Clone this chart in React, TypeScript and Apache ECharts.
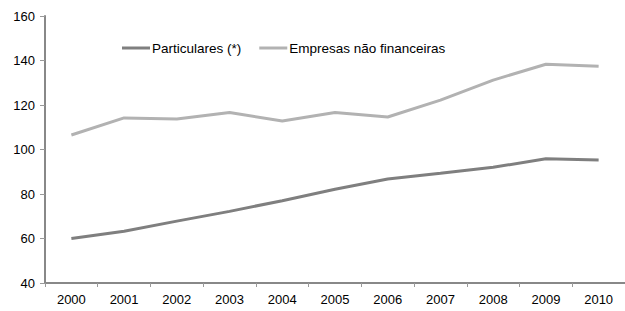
import React, { useEffect, useRef } from "react";
import * as echarts from "echarts";

const years = ["2000", "2001", "2002", "2003", "2004", "2005", "2006", "2007", "2008", "2009", "2010"];
const particulares = [60, 63.3, 67.8, 72.2, 77, 82.1, 86.7, 89.3, 92, 95.8, 95.3];
const empresas = [106.5, 114.2, 113.7, 116.6, 112.8, 116.6, 114.6, 122.2, 131.2, 138.3, 137.4];
const seriesNames = ["Particulares (*)", "Empresas não financeiras"];

export default function App() {
  const ref = useRef<HTMLDivElement>(null);
  useEffect(() => {
    document.body.style.margin = "0";
    const chart = echarts.init(ref.current!, null, { renderer: "svg" });
    const font = "Liberation Sans, Arial, sans-serif";
    chart.setOption({
      animation: false,
      textStyle: { fontFamily: font },
      grid: { left: 45, right: -11, top: 16, bottom: 28 },
      legend: {
        left: 117,
        top: 36,
        itemWidth: 28,
        itemHeight: 3,
        itemGap: 18,
        icon: "rect",
        textStyle: { fontSize: 13.5, color: "#000", fontFamily: font, padding: [0, 0, 0, -3] },
        data: seriesNames,
      },
      xAxis: {
        type: "category",
        data: years,
        boundaryGap: true,
        axisLine: { lineStyle: { color: "#888", width: 2 } },
        axisTick: { show: true, length: 4, lineStyle: { color: "#999" } },
        axisLabel: { fontSize: 13, color: "#000", margin: 10, fontFamily: font },
      },
      yAxis: {
        type: "value",
        min: 40,
        max: 160,
        interval: 20,
        splitLine: { show: false },
        axisLine: { show: true, lineStyle: { color: "#888", width: 2 } },
        axisTick: { show: true, length: 5, lineStyle: { color: "#999" } },
        axisLabel: { fontSize: 13, color: "#000", margin: 10, fontFamily: font },
      },
      series: [
        {
          name: seriesNames[0],
          type: "line",
          data: particulares,
          showSymbol: false,
          symbol: "none",
          lineStyle: { color: "#7f7f7f", width: 3 },
          itemStyle: { color: "#7f7f7f" },
        },
        {
          name: seriesNames[1],
          type: "line",
          data: empresas,
          showSymbol: false,
          symbol: "none",
          lineStyle: { color: "#b2b2b2", width: 3 },
          itemStyle: { color: "#b2b2b2" },
        },
      ],
    });
    return () => chart.dispose();
  }, []);
  return <div ref={ref} style={{ width: 625, height: 311 }} />;
}
